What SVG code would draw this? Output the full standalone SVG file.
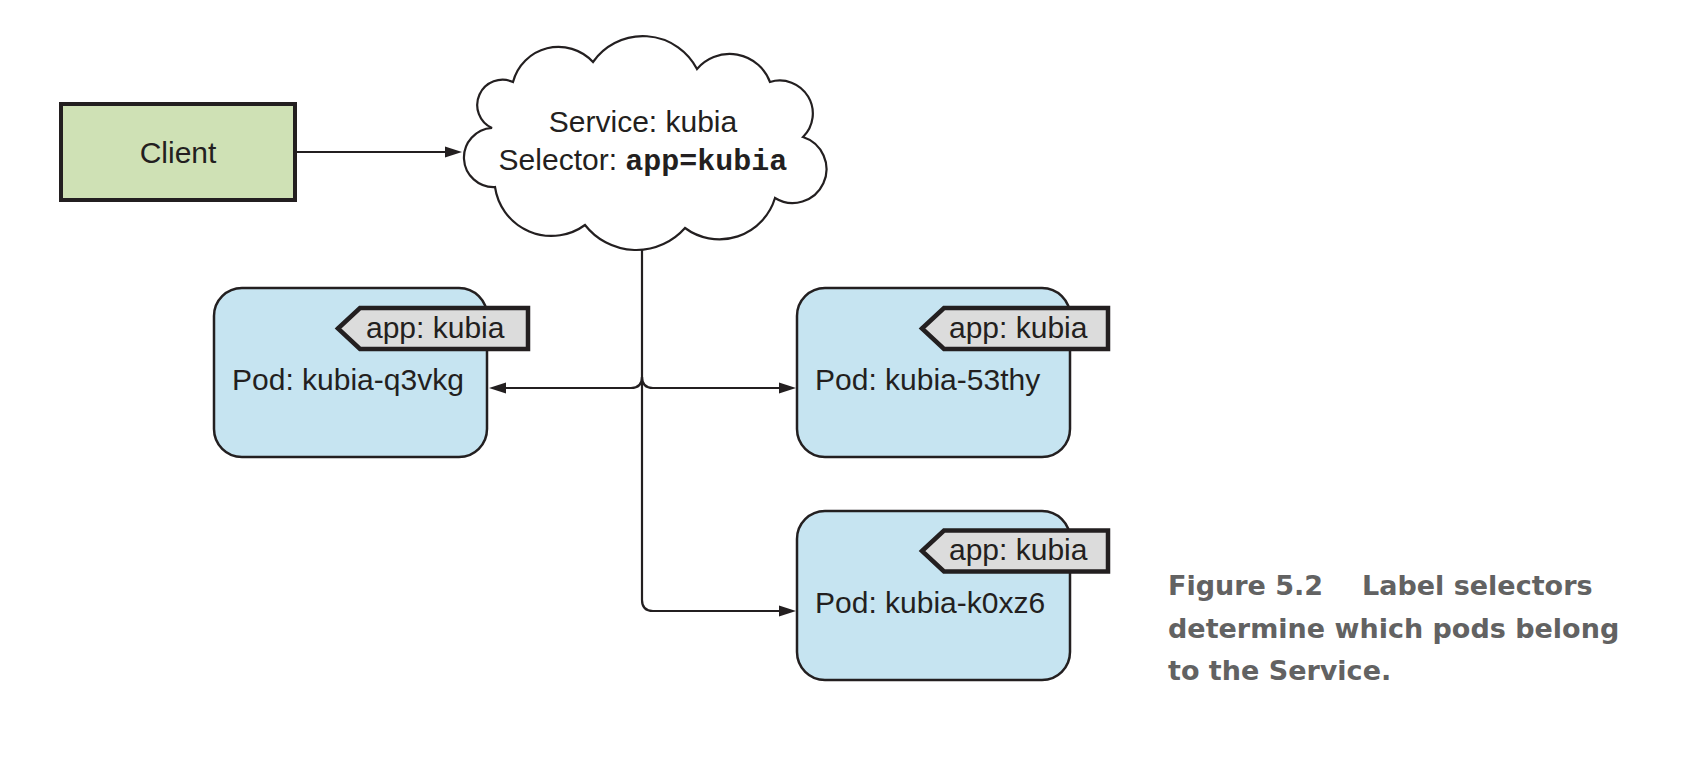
<svg xmlns="http://www.w3.org/2000/svg" width="1686" height="776" viewBox="0 0 1686 776">
  <style>
    .lbl { font-family: "Liberation Sans", Arial, sans-serif; font-size: 30px; fill: #231f20; }
    .mono { font-family: "Liberation Mono", "Courier New", monospace; font-weight: bold; }
    .pod { fill: #c6e4f1; stroke: #231f20; stroke-width: 2.5; }
    .tag { fill: #dcdcdc; stroke: #231f20; stroke-width: 4.5; stroke-linejoin: miter; }
    .wire { fill: none; stroke: #231f20; stroke-width: 2.2; }
    .caption { font-family: "DejaVu Sans", Verdana, sans-serif; font-weight: bold; font-size: 27px; fill: #626262; }
  </style>
  <defs>
    <marker id="arrow" markerUnits="userSpaceOnUse" markerWidth="18" markerHeight="12" refX="14" refY="6" orient="auto">
      <path d="M0,0.5 L17,6 L0,11.5 Z" fill="#231f20"/>
    </marker>
  </defs>

  <rect width="1686" height="776" fill="#ffffff"/>

  <!-- Client -->
  <g id="client">
    <rect x="61" y="104" width="234" height="96" fill="#cfe1b5" stroke="#231f20" stroke-width="4"/>
    <text class="lbl" x="178" y="163" text-anchor="middle">Client</text>
  </g>

  <!-- Service cloud -->
  <g id="service">
    <path d="M 513 82
             A 47 47 0 0 1 593 62
             A 61 61 0 0 1 697 69
             A 43 43 0 0 1 770 82
             A 33 33 0 0 1 803 137
             A 33.8 33.8 0 1 1 775 198
             A 58 58 0 0 1 685 228
             A 65 65 0 0 1 585 225
             A 57 57 0 0 1 495 187
             A 29.5 29.5 0 0 1 492 128
             A 25 25 0 0 1 513 82 Z"
          fill="#ffffff" stroke="#231f20" stroke-width="2.2"/>
    <text class="lbl" x="643" y="132" text-anchor="middle">Service: kubia</text>
    <text class="lbl" x="643" y="170" text-anchor="middle">Selector: <tspan class="mono">app=kubia</tspan></text>
  </g>

  <!-- Connectors -->
  <g id="connectors">
    <path class="wire" d="M 295 152 H 459" marker-end="url(#arrow)"/>
    <path class="wire" d="M 642 249 V 600 Q 642 611 653 611 H 793" marker-end="url(#arrow)"/>
    <path class="wire" d="M 642 377 Q 642 388 631 388 H 492" marker-end="url(#arrow)"/>
    <path class="wire" d="M 642 377 Q 642 388 653 388 H 793" marker-end="url(#arrow)"/>
  </g>

  <!-- Pods -->
  <g id="pod-q3vkg">
    <rect class="pod" x="214" y="288" width="273" height="169" rx="28"/>
    <polygon class="tag" points="338,328.5 360,308 528,308 528,349 360,349"/>
    <text class="lbl" x="366" y="338">app: kubia</text>
    <text class="lbl" x="232" y="390">Pod: kubia-q3vkg</text>
  </g>

  <g id="pod-53thy">
    <rect class="pod" x="797" y="288" width="273" height="169" rx="28"/>
    <polygon class="tag" points="922,328.5 944,308 1108,308 1108,349 944,349"/>
    <text class="lbl" x="949" y="338">app: kubia</text>
    <text class="lbl" x="815" y="390">Pod: kubia-53thy</text>
  </g>

  <g id="pod-k0xz6">
    <rect class="pod" x="797" y="511" width="273" height="169" rx="28"/>
    <polygon class="tag" points="922,551 944,530.5 1108,530.5 1108,571.5 944,571.5"/>
    <text class="lbl" x="949" y="560">app: kubia</text>
    <text class="lbl" x="815" y="613">Pod: kubia-k0xz6</text>
  </g>

  <!-- Caption -->
  <g id="caption">
    <text class="caption" y="595"><tspan x="1168">Figure 5.2</tspan><tspan x="1362">Label selectors</tspan></text>
    <text class="caption" x="1168" y="638">determine which pods belong</text>
    <text class="caption" x="1168" y="680">to the Service.</text>
  </g>
</svg>
